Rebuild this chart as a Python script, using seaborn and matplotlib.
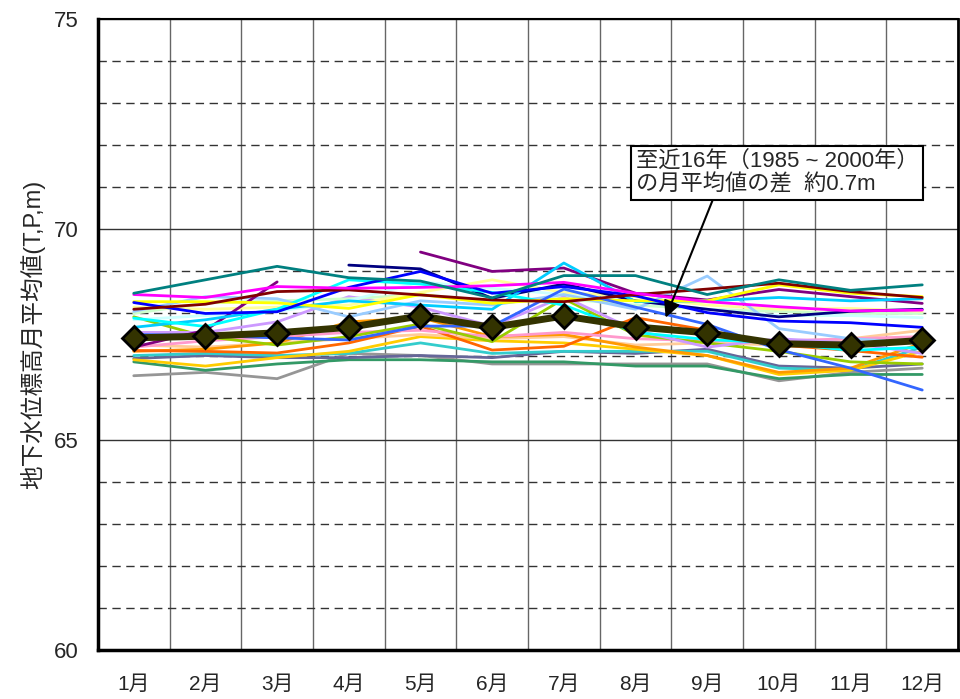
import numpy as np
import pandas as pd
import matplotlib
matplotlib.use("Agg")
import matplotlib.pyplot as plt
import matplotlib.ticker as mticker
import seaborn as sns

# ── Data ─────────────────────────────────────────────────────────
months = ["1月", "2月", "3月", "4月", "5月", "6月",
          "7月", "8月", "9月", "10月", "11月", "12月"]
nan = np.nan

teal      = [68.48, 68.80, 69.12, 68.85, 68.77, 68.37, 68.90, 68.90, 68.45, 68.80, 68.55, 68.68]
magenta   = [68.45, 68.38, 68.64, 68.60, 68.62, 68.66, 68.74, 68.48, 68.28, 68.16, 68.06, 68.08]
dark_red  = [68.10, 68.22, 68.52, 68.56, 68.44, 68.32, 68.28, 68.45, 68.58, 68.72, 68.52, 68.38]
blue      = [68.26, 68.00, 68.04, 68.62, 69.00, 68.48, 68.64, 68.42, 68.02, 67.82, 67.78, 67.67]
royal     = [67.50, 67.48, 67.42, 67.37, 67.70, 67.70, 68.58, 68.15, 67.74, 67.14, 66.70, 66.18]
yellow    = [68.28, 68.28, 68.25, 68.12, 68.45, 68.24, 68.35, 68.30, 68.30, 68.68, 68.48, 68.40]
cyan      = [67.89, 67.69, 68.10, 68.80, 68.70, 68.50, 68.20, 67.55, 67.38, 67.30, 67.12, 67.20]
sky       = [67.67, 67.85, 68.10, 68.30, 68.20, 68.10, 69.20, 68.28, 68.30, 68.38, 68.30, 68.35]
purple_a  = [67.20, 67.60, 68.75, nan, nan, nan, nan, nan, nan, nan, nan, nan]
purple_b  = [nan, nan, nan, nan, 69.46, 69.00, 69.08, 68.48, 68.32, 68.57, 68.40, 68.24]
navy      = [nan, nan, nan, 69.15, 69.06, 68.36, 68.70, 68.30, 68.10, 67.92, 68.05, 68.10]
pale_blue = [68.05, 68.40, 68.35, 67.92, 68.30, 68.20, 68.45, 68.10, 68.89, 67.64, 67.40, 67.30]
lt_yellow = [68.15, 68.10, 68.15, 68.20, 68.50, 68.80, 68.50, 68.40, 68.20, 68.10, 68.12, 68.05]
lt_turq   = [67.85, 67.95, 68.05, 68.30, 68.75, 68.60, 68.45, 68.30, 68.10, 67.95, 67.95, 67.90]
lt_green  = [68.00, 68.25, 68.30, 68.35, 68.45, 68.30, 68.35, 68.20, 68.10, 68.05, 68.00, 68.00]
lavender  = [67.55, 67.55, 67.80, 68.40, 68.15, 67.70, 68.40, 67.60, 67.20, 67.40, 67.30, 67.05]
lime      = [67.92, 67.45, 67.25, 67.45, 67.75, 67.33, 68.35, 67.49, 67.30, 67.10, 66.85, 66.80]
pink      = [67.20, 67.35, 67.45, 67.55, 67.60, 67.45, 67.55, 67.40, 67.35, 67.35, 67.40, 67.45]
orange    = [67.12, 67.10, 67.06, 67.30, 67.70, 67.13, 67.22, 67.90, 67.60, 67.25, 67.12, 66.96]
lt_orange = [67.10, 67.15, 67.30, 67.80, 67.90, 67.45, 67.50, 67.20, 67.00, 66.60, 66.70, 67.30]
tan       = [67.25, 67.20, 67.30, 67.40, 67.50, 67.40, 67.45, 67.25, 67.30, 67.25, 67.40, 67.60]
gold      = [66.90, 66.75, 66.95, 67.10, 67.45, 67.35, 67.30, 67.15, 67.00, 66.55, 66.65, 67.10]
turquoise = [67.00, 67.05, 67.00, 67.05, 67.30, 67.05, 67.10, 67.10, 67.10, 66.70, 66.65, 67.20]
blue_gray = [66.93, 67.00, 66.95, 66.95, 67.00, 66.95, 67.10, 67.05, 67.15, 66.75, 66.70, 66.80]
sea_green = [66.85, 66.65, 66.80, 66.90, 66.90, 66.85, 66.85, 66.75, 66.75, 66.45, 66.55, 66.55]
gray      = [66.52, 66.60, 66.45, 67.05, 67.00, 66.80, 66.80, 66.80, 66.80, 66.40, 66.60, 66.70]

mean_16yr = [67.42, 67.46, 67.54, 67.67, 67.94, 67.67, 67.94, 67.68, 67.54, 67.28, 67.25, 67.36]

series = {
    "gray": (gray, "#969696"),
    "sea_green": (sea_green, "#339966"),
    "blue_gray": (blue_gray, "#666699"),
    "turquoise": (turquoise, "#33CCCC"),
    "gold": (gold, "#FFCC00"),
    "tan": (tan, "#FFCC99"),
    "lt_orange": (lt_orange, "#FF9900"),
    "orange": (orange, "#FF6600"),
    "pink": (pink, "#FF99CC"),
    "lime": (lime, "#99CC00"),
    "lavender": (lavender, "#CC99FF"),
    "lt_green": (lt_green, "#CCFFCC"),
    "lt_turq": (lt_turq, "#CCFFFF"),
    "lt_yellow": (lt_yellow, "#FFFF99"),
    "pale_blue": (pale_blue, "#99CCFF"),
    "navy": (navy, "#000080"),
    "purple_a": (purple_a, "#800080"),
    "purple_b": (purple_b, "#800080"),
    "sky": (sky, "#00CCFF"),
    "cyan": (cyan, "#00FFFF"),
    "yellow": (yellow, "#FFFF00"),
    "royal": (royal, "#3366FF"),
    "blue": (blue, "#0000FF"),
    "dark_red": (dark_red, "#800000"),
    "magenta": (magenta, "#FF00FF"),
    "teal": (teal, "#008080"),
}

rows = []
for name, (vals, _) in series.items():
    for i, v in enumerate(vals):
        rows.append({"series": name, "month": i, "level": v})
df = pd.DataFrame(rows).dropna()
palette = {name: c for name, (_, c) in series.items()}

mean_df = pd.DataFrame({"month": range(len(months)), "level": mean_16yr})

# ── Style ────────────────────────────────────────────────────────
sns.set_theme(style="white")
plt.rcParams["font.family"] = ["Liberation Sans", "Noto Sans CJK JP", "DejaVu Sans"]

fig = plt.figure(figsize=(9.6, 6.99), dpi=100)
ax = fig.add_axes([0.102, 0.0701, 0.896, 0.9027])

sns.lineplot(data=df, x="month", y="level", hue="series", palette=palette,
             hue_order=list(series.keys()), units="series", estimator=None,
             sort=False, linewidth=2.0, legend=False, ax=ax, zorder=3)

sns.lineplot(data=mean_df, x="month", y="level", color="#333300", linewidth=5,
             marker="D", markersize=12, markerfacecolor="#333300",
             markeredgecolor="black", markeredgewidth=2, legend=False,
             ax=ax, zorder=5)

ax.set_xlim(-0.5, len(months) - 0.5)
ax.set_ylim(60, 75)

ax.set_xticks(range(len(months)))
ax.set_xticklabels(months)
ax.xaxis.set_minor_locator(mticker.FixedLocator(np.arange(0.5, len(months) - 0.5, 1)))
ax.yaxis.set_major_locator(mticker.MultipleLocator(5))
ax.yaxis.set_minor_locator(mticker.MultipleLocator(1))

ax.grid(False)
ax.grid(which="minor", axis="x", color="#666666", linewidth=1.0, zorder=1)
ax.grid(which="major", axis="y", color="#333333", linewidth=1.0, zorder=1)
ax.grid(which="minor", axis="y", color="#333333", linewidth=1.0,
        linestyle=(0, (6, 4)), zorder=1)
ax.set_axisbelow(True)

ax.tick_params(axis="both", which="both", length=0)
ax.tick_params(axis="x", pad=18, labelsize=15)
ax.tick_params(axis="y", pad=14, labelsize=16)

for side, lw in [("left", 2.5), ("bottom", 2.5), ("top", 1.5), ("right", 2.0)]:
    ax.spines[side].set_color("black")
    ax.spines[side].set_linewidth(lw)
    ax.spines[side].set_visible(True)

ax.set_xlabel("")
ax.set_ylabel("地下水位標高月平均値(T,P,m)", fontsize=17, labelpad=6)

ax.annotate("至近16年（1985 ~ 2000年）\nの月平均値の差  約0.7m",
            xy=(7.42, 67.9), xytext=(7.0, 71.34),
            fontsize=16, ha="left", va="center", linespacing=1.1,
            bbox=dict(boxstyle="square,pad=0.2", facecolor="white",
                      edgecolor="black", linewidth=1.5),
            arrowprops=dict(arrowstyle="-|>", color="black", lw=1.5,
                            mutation_scale=25, shrinkA=0, shrinkB=0,
                            relpos=(0.28, 0.0)),
            zorder=6)

fig.savefig("out.png", dpi=100, facecolor="white")
